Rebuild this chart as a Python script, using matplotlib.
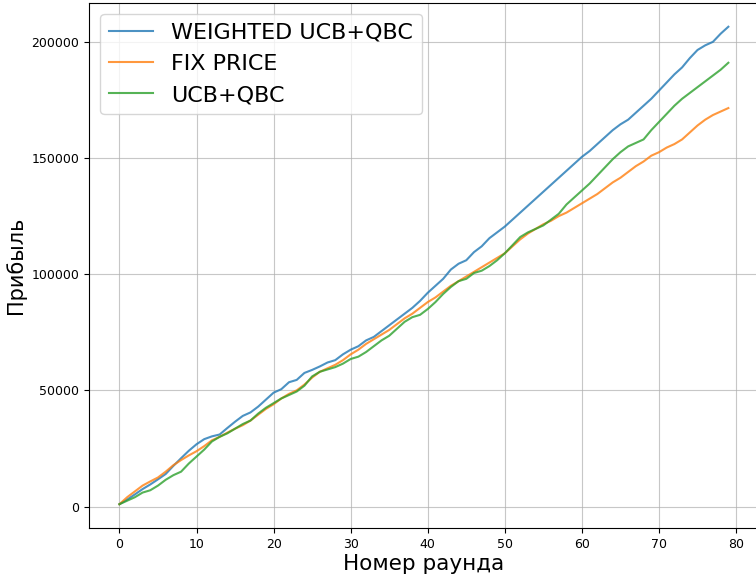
import matplotlib.pyplot as plt
import numpy as np

rounds = np.arange(80)

weighted_ucb_qbc = [
    1000, 3000, 5200, 7500, 9500, 11700, 14000, 17500, 20800, 24000,
    26800, 29000, 30200, 31000, 33800, 36500, 39000, 40500, 43000, 46000,
    49000, 50500, 53500, 54500, 57500, 58800, 60300, 62000, 63000, 65500,
    67500, 69000, 71500, 73000, 75500, 78000, 80500, 83000, 85500, 88500,
    92000, 95000, 98000, 102000, 104500, 106000, 109500, 112000, 115500, 118000,
    120500, 123500, 126500, 129500, 132500, 135500, 138500, 141500, 144500, 147500,
    150500, 153000, 156000, 159000, 162000, 164500, 166500, 169500, 172500, 175500,
    179000, 182500, 186000, 189000, 193000, 196500, 198500, 200000, 203500, 206500,
]

fix_price = [
    1000, 4000, 6500, 9000, 10800, 12500, 15000, 17800, 20000, 22000,
    23800, 26000, 28500, 30000, 31800, 33500, 35000, 37000, 39500, 42000,
    44000, 46500, 48500, 50000, 52500, 55500, 58000, 59500, 61000, 63000,
    65500, 67500, 70000, 72000, 74000, 76000, 78500, 81000, 83000, 85500,
    88000, 90000, 92500, 95000, 97000, 99000, 101000, 103000, 105000, 107000,
    109000, 112000, 115000, 117500, 119500, 121500, 123000, 125000, 126500, 128500,
    130500, 132500, 134500, 137000, 139500, 141500, 144000, 146500, 148500, 151000,
    152500, 154500, 156000, 158000, 161000, 164000, 166500, 168500, 170000, 171500,
]

ucb_qbc = [
    1000, 2500, 4000, 6000, 7000, 9000, 11500, 13500, 15000, 18500,
    21500, 24500, 28000, 30000, 31500, 33500, 35500, 37000, 40000, 42500,
    44500, 46500, 48000, 49500, 52000, 56000, 58000, 59000, 60000, 61500,
    63500, 64500, 66500, 69000, 71500, 73500, 76500, 79500, 81500, 82500,
    85000, 88000, 91500, 94500, 97000, 98000, 100500, 101500, 103500, 106000,
    109000, 112500, 116000, 118000, 119500, 121000, 123500, 126000, 130000, 133000,
    136000, 139000, 142500, 146000, 149500, 152500, 155000, 156500, 158000, 162000,
    165500, 169000, 172500, 175500, 178000, 180500, 183000, 185500, 188000, 191000,
]

fig = plt.figure(figsize=(7.56, 5.74), dpi=100)
ax = fig.add_axes([0.1177, 0.080, 0.886, 0.915])

ax.plot(rounds, weighted_ucb_qbc, label='WEIGHTED UCB+QBC', alpha=0.8)
ax.plot(rounds, fix_price, label='FIX PRICE', alpha=0.8)
ax.plot(rounds, ucb_qbc, label='UCB+QBC', alpha=0.8)

ax.set_xticks(np.arange(0, 81, 10))
ax.tick_params(labelsize=9)
ax.set_xlabel('Номер раунда', fontsize=15.5, labelpad=2)
ax.set_ylabel('Прибыль', fontsize=15)
ax.grid(alpha=0.7)
ax.legend(loc='upper left', fontsize=16)

fig.savefig('out.png', dpi=100)
